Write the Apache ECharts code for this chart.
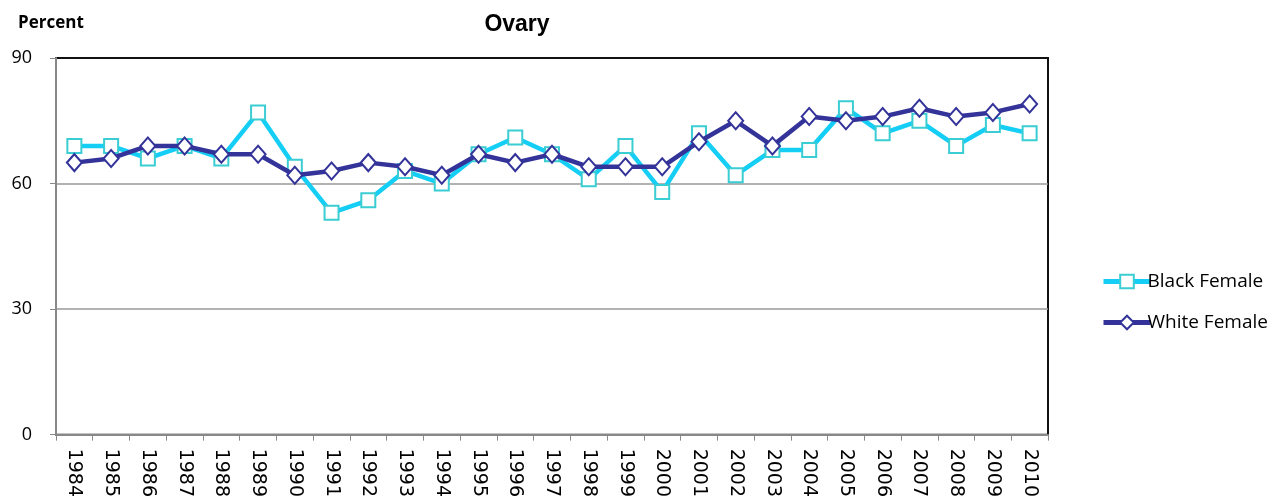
<!DOCTYPE html>
<html><head><meta charset="utf-8">
<script src="https://cdn.jsdelivr.net/npm/echarts@6/dist/echarts.min.js"></script>
<style>html,body{margin:0;padding:0;background:#fff}#c{width:1288px;height:500px}</style>
</head><body><div id="c"></div>
<script>
const years = ['1984','1985','1986','1987','1988','1989','1990','1991','1992','1993','1994','1995','1996','1997','1998','1999','2000','2001','2002','2003','2004','2005','2006','2007','2008','2009','2010'];
const blackFemale = [69,69,66,69,66,77,64,53,56,63,60,67,71,67,61,69,58,72,62,68,68,78,72,75,69,74,72];
const whiteFemale = [65,66,69,69,67,67,62,63,65,64,62,67,65,67,64,64,64,70,75,69,76,75,76,78,76,77,79];
const yTicks = [0,30,60,90];

const chart = echarts.init(document.getElementById('c'));
const font = '"Open Sans", Lato, sans-serif';
chart.setOption({
  animation:false,
  title:{text:'Ovary', left:512, top:8, textAlign:'center',
    textStyle:{fontFamily:'"Liberation Sans", Arial, sans-serif', fontSize:23, fontWeight:'bold', color:'#000'}},
  graphic:[{type:'text', left:18, top:15, style:{text:'Percent', font:'bold 17px '+font, fill:'#000'}}],
  legend:{orient:'vertical', left:1096, top:267, itemGap:22, itemWidth:47, itemHeight:17,
    textStyle:{fontFamily:font, fontSize:19, color:'#000', padding:[0,0,0,-8]},
    data:[{name:'Black Female', lineStyle:{width:5}}, {name:'White Female', lineStyle:{width:5}}]},
  grid:{left:56, right:240, top:58, bottom:64, show:true, borderColor:'#111', borderWidth:2, backgroundColor:'transparent'},
  xAxis:{type:'category', data:years, boundaryGap:true,
    axisLine:{lineStyle:{color:'#888', width:2}},
    axisTick:{show:true, length:6, lineStyle:{color:'#888'}},
    axisLabel:{rotate:-90, interval:0, fontFamily:'"DejaVu Sans", sans-serif', fontSize:19, color:'#000', margin:14}},
  yAxis:{type:'value', min:0, max:90, interval:30,
    axisLine:{show:true, lineStyle:{color:'#888', width:2}},
    axisTick:{show:true, length:6, lineStyle:{color:'#888'}},
    splitLine:{showMaxLine:false, lineStyle:{color:'#999', width:1.5}},
    axisLabel:{fontFamily:font, fontSize:18, color:'#000', margin:24,
      formatter:v=>yTicks.includes(v)?String(v):''}},
  series:[
    {name:'Black Female', type:'line', data:blackFemale, symbol:'rect', symbolSize:14,
      lineStyle:{color:'#15CEF5', width:4.5}, itemStyle:{color:'#fff', borderColor:'#3ACDD3', borderWidth:2},
      z:2},
    {name:'White Female', type:'line', data:whiteFemale, symbol:'diamond', symbolSize:[15,17],
      lineStyle:{color:'#333399', width:4.5}, itemStyle:{color:'#fff', borderColor:'#333399', borderWidth:2},
      z:3}
  ]
});
</script></body></html>
